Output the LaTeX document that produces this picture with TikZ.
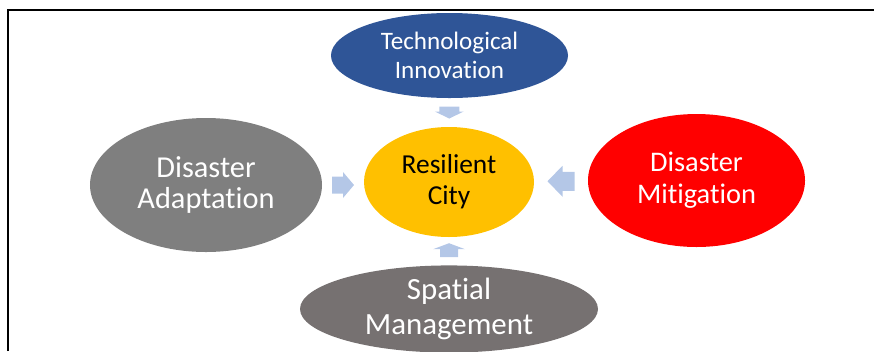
\documentclass[tikz,border=0pt]{standalone}
\usepackage{fontspec}
\setmainfont{Carlito}[Ligatures={NoCommon,NoRare}]
\usetikzlibrary{shapes.geometric,calc}
\definecolor{techblue}{HTML}{2F5597}
\definecolor{cityorange}{HTML}{FFC000}
\definecolor{adaptgray}{HTML}{7F7F7F}
\definecolor{mitigred}{HTML}{FF0000}
\definecolor{spatialgray}{HTML}{767171}
\definecolor{arrowblue}{HTML}{B4C7E7}
% #1 centre, #2 direction, #3 length, #4 shaft half width, #5 head half width, #6 head length
\newcommand\myblockarrow[6]{%
  \fill[arrowblue, shift={#1}, rotate=#2]
    (-#3/2,-#4) -- (#3/2-#6,-#4) -- (#3/2-#6,-#5) -- (#3/2,0)
    -- (#3/2-#6,#5) -- (#3/2-#6,#4) -- (-#3/2,#4) -- cycle;}
\begin{document}
\begin{tikzpicture}[x=1bp,y=1bp,
  bubble/.style={ellipse, draw=none, inner sep=0pt, align=center, text=white}]
\useasboundingbox (0,0) rectangle (874,-351);
\draw[line width=2.5bp, line join=miter] (8,-351) -- (8,-10) -- (874,-10);

\node[bubble, fill=techblue, minimum width=237bp, minimum height=85bp,
      font=\fontsize{25.2}{29}\selectfont] (tech) at (449.5,-55.5) {Technological\\Innovation};
\node[bubble, fill=cityorange, text=black, minimum width=170bp, minimum height=110bp,
      font=\fontsize{27.5}{31}\selectfont] (city) at (449,-182) {Resilient\\City};
\node[bubble, fill=adaptgray, minimum width=232bp, minimum height=134bp,
      font=\fontsize{30.5}{32}\selectfont] (adapt) at (206,-185) {Disaster\\Adaptation};
\node[bubble, fill=mitigred, minimum width=217bp, minimum height=133bp,
      font=\fontsize{28.5}{32}\selectfont] (mitig) at (696.5,-180.5) {Disaster\\Mitigation};
\node[bubble, fill=spatialgray, minimum width=298bp, minimum height=84bp,
      font=\fontsize{31}{35}\selectfont] (spatial) at (449,-309) {Spatial\\Management};

% block arrows between the nodes
\myblockarrow{($(tech.south)!0.5!(city.north)$)}{-90}{12}{10}{14.5}{7}
\myblockarrow{($(spatial.north)!0.5!(city.south)+(0,1)$)}{90}{14}{9}{16}{6}
\myblockarrow{($(adapt.east)!0.5!(city.west)+(0,-1.5)$)}{0}{22}{8.5}{13}{11}
\myblockarrow{($(mitig.west)!0.5!(city.east)$)}{180}{27}{9.5}{15.5}{15}
\end{tikzpicture}
\end{document}
